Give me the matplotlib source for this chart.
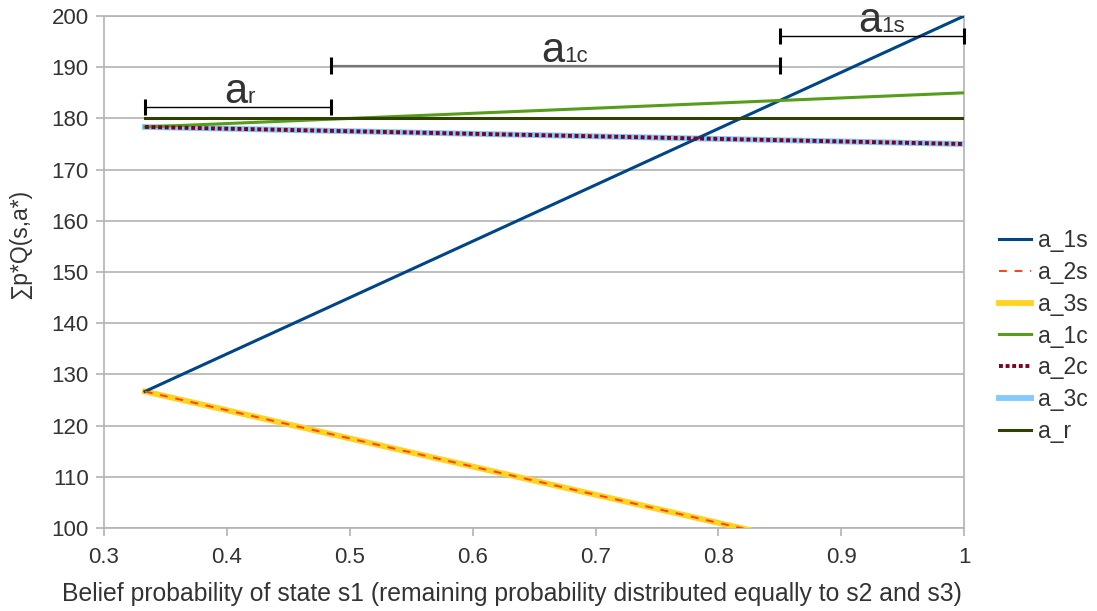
import numpy as np
import matplotlib
matplotlib.use("Agg")
from matplotlib import pyplot as plt
from matplotlib.transforms import offset_copy

plt.rcParams['font.family'] = ['Liberation Sans', 'DejaVu Sans']

# belief probability of s1 (end points of each linear series)
belief = [1 / 3, 1.0]
a_1s = [126.67, 200.0]
a_2s = [126.67, 90.0]
a_3s = [126.67, 90.0]
a_1c = [178.33, 185.0]
a_2c = [178.33, 175.0]
a_3c = [178.33, 175.0]
a_r = [180.0, 180.0]

# optimal action regions
region_start = [1 / 3, 0.485, 0.85]
region_end = [0.485, 0.85, 1.0]
region_level = [182.2, 190.3, 196.1]
region_sub = ['r', '1c', '1s']
region_color = ['black', '#777777', 'black']
region_lw = [1.0, 1.6, 1.0]

fig = plt.figure(figsize=(10.97, 6.11), dpi=100)
ax = fig.add_axes([0.0948, 0.1358, 0.7841, 0.838])

ax.plot(belief, a_1s, color='#004586', lw=2.2, label='a_1s', zorder=5)
ax.plot(belief, a_2s, color='#ff420e', lw=1.4, ls=(0, (4, 4)), label='a_2s', zorder=6)
ax.plot(belief, a_3s, color='#ffd320', lw=4.2, label='a_3s', zorder=4)
ax.plot(belief, a_1c, color='#579d1c', lw=2.2, label='a_1c', zorder=5)
ax.plot(belief, a_2c, color='#7e0021', lw=2.8, ls=(0, (1, 0.7)), label='a_2c', zorder=6)
ax.plot(belief, a_3c, color='#83caff', lw=4.2, label='a_3c', zorder=4)
ax.plot(belief, a_r, color='#314004', lw=2.2, label='a_r', zorder=5)

for x0, x1, lvl, sub, c, lw in zip(region_start, region_end, region_level,
                                   region_sub, region_color, region_lw):
    ax.plot([x0, x1], [lvl, lvl], color=c, lw=lw, zorder=7, clip_on=False)
    for xe in (x0, x1):
        ax.plot([xe, xe], [lvl - 1.6, lvl + 1.6], color='black', lw=2.2, zorder=7,
                clip_on=False, solid_capstyle='butt')
    cx = (x0 + x1) / 2
    tr = offset_copy(ax.transData, fig=fig, x=6.5, y=3, units='points')
    ax.text(cx, lvl, 'a', transform=tr, ha='right', va='baseline', fontsize=30,
            color='#333333', zorder=8)
    ax.text(cx, lvl, sub, transform=tr, ha='left', va='baseline', fontsize=16,
            color='#333333', zorder=8)

ax.set_xlim(0.3, 1.0)
ax.set_ylim(100, 200)
ax.set_xticks(np.arange(0.3, 1.01, 0.1))
ax.set_xticklabels(['0.3', '0.4', '0.5', '0.6', '0.7', '0.8', '0.9', '1'])
ax.set_yticks(np.arange(100, 201, 10))
ax.yaxis.grid(True, color='#b3b3b3', lw=1.2)
ax.set_axisbelow(True)
for s in ax.spines.values():
    s.set_color('#b3b3b3')
    s.set_linewidth(1.2)
ax.tick_params(axis='both', colors='#b3b3b3', labelcolor='#333333', labelsize=16,
               length=6, width=1.2)
ax.tick_params(axis='x', pad=8)
ax.tick_params(axis='y', pad=5)

ax.set_xlabel('Belief probability of state s1 (remaining probability distributed equally to s2 and s3)',
              fontsize=17.8, color='#333333')
ax.xaxis.set_label_coords(0.474, -0.106)
ax.set_ylabel('∑p*Q(s,a*)', fontsize=16.5, color='#333333')
ax.yaxis.set_label_coords(-0.084, 0.555)

leg = ax.legend(loc='center left', bbox_to_anchor=(1.03, 0.375), frameon=False,
                fontsize=16.5, handlelength=1.4, handletextpad=0.3, labelspacing=0.38,
                labelcolor='#333333', borderaxespad=0)

fig.savefig('out.png', dpi=100)
